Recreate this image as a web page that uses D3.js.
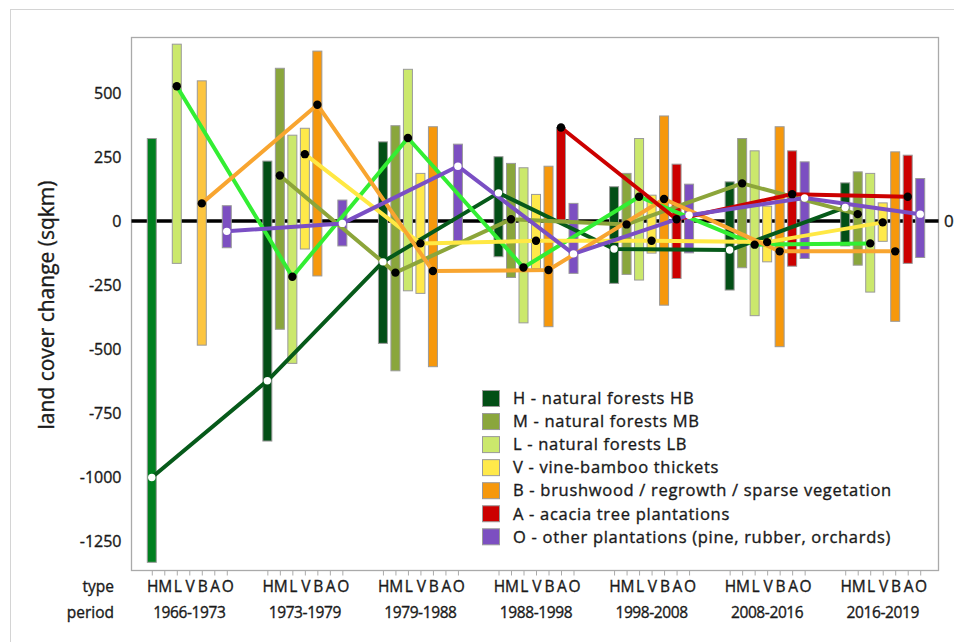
<!DOCTYPE html>
<html><head><meta charset="utf-8">
<script src="https://cdn.jsdelivr.net/npm/d3@7/dist/d3.min.js"></script>
<style>
body{margin:0;background:#fff;}
svg text{font-family:"Open Sans","Noto Sans",sans-serif;fill:#1a1a1a;stroke:#1a1a1a;stroke-width:0.35px;}
</style></head>
<body><svg id="c" width="954" height="642"></svg>
<script>
// ---------- data ----------
const periods = ["1966-1973","1973-1979","1979-1988","1988-1998","1998-2008","2008-2016","2016-2019"];
const types = ["H","M","L","V","B","A","O"];
const typeNames = ["H - natural forests HB","M - natural forests MB","L - natural forests LB","V - vine-bamboo thickets","B - brushwood / regrowth / sparse vegetation","A - acacia tree plantations","O - other plantations (pine, rubber, orchards)"];
const yTicks = [500,250,0,-250,-500,-750,-1000,-1250];

// range low / high per period, and connected point value
const H_lo = [-1331,-858,-477,-139,-243,-269,-97];
const H_hi = [322,234,309,251,134,153,149];
const H_pt = [-1000,-623,-159,110,-109,-113,53];
const M_lo = [null,-422,-584,-220,-208,-182,-172];
const M_hi = [null,596,372,225,186,322,192];
const M_pt = [null,178,-201,7,-13,147,27];
const L_lo = [-165,-555,-272,-397,-230,-369,-277];
const L_hi = [690,335,592,208,322,274,186];
const L_pt = [526,-217,324,-181,95,-92,-87];
const V_lo = [null,-109,-282,-185,-125,-159,-79];
const V_hi = [null,362,186,104,101,58,71];
const V_pt = [null,261,-87,-77,-77,-82,-5];
const B_lo = [-484,-214,-568,-412,-328,-490,-391];
const B_hi = [547,663,368,214,410,368,270];
const B_pt = [69,454,-195,-191,86,-118,-118];
const A_lo = [null,null,null,4,-224,-176,-165];
const A_hi = [null,null,null,365,222,274,257];
const A_pt = [null,null,null,365,7,105,95];
const O_lo = [-104,-97,-77,-204,-124,-146,-142];
const O_hi = [60,82,300,69,144,231,166];
const O_pt = [-40,-9,214,-128,23,90,27];

const series = {
  H:{lo:H_lo,hi:H_hi,pt:H_pt}, M:{lo:M_lo,hi:M_hi,pt:M_pt}, L:{lo:L_lo,hi:L_hi,pt:L_pt},
  V:{lo:V_lo,hi:V_hi,pt:V_pt}, B:{lo:B_lo,hi:B_hi,pt:B_pt}, A:{lo:A_lo,hi:A_hi,pt:A_pt},
  O:{lo:O_lo,hi:O_hi,pt:O_pt}
};

// ---------- styles ----------
const barColor = {H:"#034f16",M:"#8aa63c",L:"#cbe86c",V:"#ffe94a",B:"#f6980c",A:"#cc0000",O:"#7c4fc1"};
const firstBarColor = {H:"#00801f",B:"#fcc540"};
const lineColor = {H:"#065a1a",M:"#8ca53a",L:"#33ee33",V:"#ffe844",B:"#f8a530",A:"#cc0000",O:"#7a4fc4"};
const whiteDot = {H:true,O:true};

const svg = d3.select("#c");
const X0=131.5, X1=938.5, Y0=37.5, Y1=570.5;

// outer frame
svg.append("rect").attr("x",10.5).attr("y",9.5).attr("width",1000).attr("height",700)
  .attr("fill","none").attr("stroke","#d4d4d4");

const xp = d3.scaleBand().domain(periods).range([131.5,940.5]);
const xt = d3.scalePoint().domain(types).range([-37.5,37.5]);
const xpos = (p,t)=> xp(p)+xp.bandwidth()/2+xt(t);
const y = d3.scaleLinear().domain([-1361,718]).range([570,37]);

// plot frame
svg.append("rect").attr("x",X0).attr("y",Y0).attr("width",X1-X0).attr("height",Y1-Y0)
  .attr("fill","none").attr("stroke","#aaaaaa").attr("stroke-width",1.3);

// zero line
svg.append("line").attr("x1",X0).attr("x2",X1).attr("y1",y(0)).attr("y2",y(0))
  .attr("stroke","#000").attr("stroke-width",3.5);
svg.append("text").attr("x",944).attr("y",y(0)).attr("dy","0.36em").attr("font-size",17).text("0");

// bars
const barW = 9;
types.forEach(t=>{
  const s = series[t];
  periods.forEach((p,i)=>{
    if(s.lo[i]==null) return;
    svg.append("rect")
      .attr("x",xpos(p,t)-barW/2).attr("width",barW)
      .attr("y",y(s.hi[i])).attr("height",y(s.lo[i])-y(s.hi[i]))
      .attr("fill", i===0 && firstBarColor[t] ? firstBarColor[t] : barColor[t])
      .attr("stroke","#9a9a9a").attr("stroke-width",1);
  });
});

// lines
const lineGen = d3.line().defined(d=>d.v!=null).x(d=>d.x).y(d=>y(d.v));
types.forEach(t=>{
  const pts = periods.map((p,i)=>({x:xpos(p,t),v:series[t].pt[i]})).filter(d=>d.v!=null);
  svg.append("path").attr("d",lineGen(pts)).attr("fill","none")
    .attr("stroke",lineColor[t]).attr("stroke-width",4).attr("stroke-linejoin","round");
});
// points
types.forEach(t=>{
  periods.forEach((p,i)=>{
    const v = series[t].pt[i]; if(v==null) return;
    svg.append("circle").attr("cx",xpos(p,t)).attr("cy",y(v)).attr("r",whiteDot[t]?3.7:4.2)
      .attr("fill",whiteDot[t]?"#fff":"#000");
  });
});

// y axis
const ya = svg.append("g").attr("transform",`translate(${X0},0)`)
  .call(d3.axisLeft(y).tickValues(yTicks).tickSize(0).tickPadding(10).tickFormat(d=>String(d)));
ya.select(".domain").remove();
ya.selectAll("text").attr("font-size",16).style("font-family",'"Open Sans",sans-serif')
  .attr("fill","#1a1a1a");

svg.append("text").attr("transform","translate(54,305) rotate(-90)").attr("text-anchor","middle")
  .attr("font-size",21).text("land cover change (sqkm)");

// x axis (types)
const keys=[], kpos=[];
periods.forEach(p=>types.forEach(t=>{keys.push(p+"|"+t); kpos.push(xpos(p,t));}));
const xk = d3.scaleOrdinal().domain(keys).range(kpos);
const xa = svg.append("g").attr("transform",`translate(0,${Y1})`)
  .call(d3.axisBottom(xk).tickSize(5).tickPadding(5).tickFormat(k=>k.split("|")[1]));
xa.select(".domain").remove();
xa.selectAll(".tick line").attr("stroke","#aaa");
xa.selectAll("text").attr("font-size",15.5).style("font-family",'"Open Sans",sans-serif')
  .attr("fill","#1a1a1a").attr("letter-spacing",-0.8);

// period labels
svg.selectAll(".plab").data(periods).enter().append("text").attr("class","plab")
  .attr("x",p=>xp(p)+xp.bandwidth()/2).attr("y",618).attr("text-anchor","middle")
  .attr("font-size",15.5).attr("letter-spacing",-0.4).text(p=>p);
svg.append("text").attr("x",114).attr("y",592).attr("text-anchor","end").attr("font-size",15.5).text("type");
svg.append("text").attr("x",114).attr("y",618).attr("text-anchor","end").attr("font-size",15.5).text("period");

// legend
const lg = svg.append("g");
types.forEach((t,i)=>{
  const cy = 398.5 + i*23.05;
  lg.append("rect").attr("x",482.5).attr("y",cy-8).attr("width",17).attr("height",16)
    .attr("fill",barColor[t]).attr("stroke","#9a9a9a");
  lg.append("text").attr("x",513).attr("y",cy).attr("dy","0.35em").attr("font-size",16.5)
    .attr("letter-spacing",0.7).text(typeNames[i]);
});
</script></body></html>
